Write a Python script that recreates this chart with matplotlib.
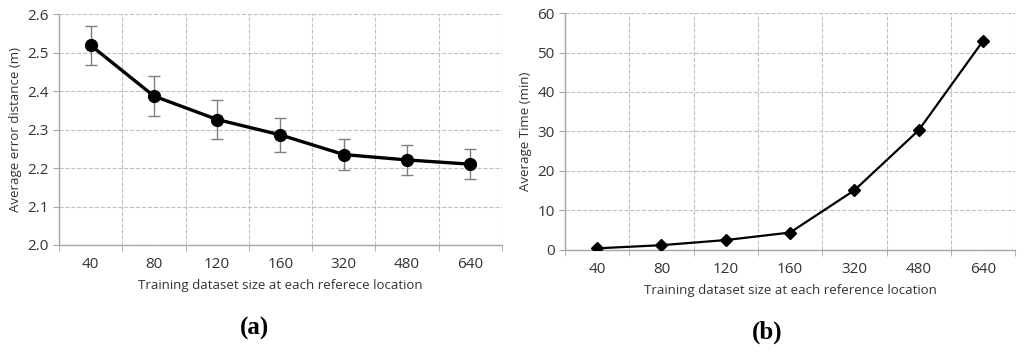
import matplotlib.pyplot as plt
import numpy as np

# x categories (training dataset size)
sizes = ['40', '80', '120', '160', '320', '480', '640']

# (a) average error distance (m) with error bars
err_dist = [2.519, 2.387, 2.326, 2.286, 2.235, 2.221, 2.210]
err_bar = [0.051, 0.052, 0.050, 0.044, 0.040, 0.040, 0.039]

# (b) average time (min)
avg_time = [0.4, 1.2, 2.5, 4.4, 15.1, 30.3, 52.9]

plt.rcParams['font.family'] = ['Open Sans', 'DejaVu Sans']

grid_c = '#c0c0c0'
spine_c = '#a6a6a6'


def style_axes(ax):
    x = np.arange(len(sizes))
    ax.set_xlim(-0.5, len(sizes) - 0.5)
    ax.set_xticks(x)
    ax.set_xticklabels(sizes)
    ax.set_xticks(np.arange(len(sizes) + 1) - 0.5, minor=True)
    ax.tick_params(axis='x', which='major', length=0, labelsize=11, pad=9, colors='#333333')
    ax.tick_params(axis='x', which='minor', length=4, color=spine_c)
    ax.tick_params(axis='y', which='major', length=4, color=spine_c, labelsize=11, colors='#333333')
    ax.grid(axis='x', which='minor', linestyle='--', color=grid_c, linewidth=0.8)
    ax.grid(axis='y', which='major', linestyle='--', color=grid_c, linewidth=0.8)
    for s in ['top', 'right']:
        ax.spines[s].set_visible(False)
    for s in ['left', 'bottom']:
        ax.spines[s].set_color(spine_c)
        ax.spines[s].set_linewidth(1.0)
    ax.set_axisbelow(True)


fig = plt.figure(figsize=(10.24, 3.52), dpi=100)
ax1 = fig.add_axes([0.0576, 0.304, 0.4326, 0.656])
ax2 = fig.add_axes([0.5518, 0.290, 0.4395, 0.673])

x = np.arange(len(sizes))

# (a)
style_axes(ax1)
ax1.errorbar(x, err_dist, yerr=err_bar, fmt='none', ecolor='#7f7f7f',
             elinewidth=1.0, capsize=4, capthick=1.0, zorder=2)
ax1.plot(x, err_dist, color='black', linewidth=2.4, marker='o',
         markersize=8.5, zorder=3)
ax1.set_ylim(2.0, 2.6)
ax1.set_yticks(np.arange(2.0, 2.61, 0.1))
ax1.set_yticklabels(['%.1f' % v for v in np.arange(2.0, 2.61, 0.1)])
ax1.set_ylabel('Average error distance (m)', fontsize=9.5, color='#333333', labelpad=4)
ax1.set_xlabel('Training dataset size at each referece location', fontsize=9.5,
               color='#333333', labelpad=5)

# (b)
style_axes(ax2)
ax2.plot(x, avg_time, color='black', linewidth=1.6, marker='D',
         markersize=6.5, zorder=3)
ax2.set_ylim(0, 60)
ax2.set_yticks(np.arange(0, 61, 10))
ax2.set_ylabel('Average Time (min)', fontsize=9.5, color='#333333', labelpad=4)
ax2.set_xlabel('Training dataset size at each reference location', fontsize=9.5,
               color='#333333', labelpad=5)

# panel captions
fig.text(0.249, 0.068, '(a)', ha='center', va='center', fontsize=18,
         fontweight='bold', family='Liberation Serif')
fig.text(0.749, 0.055, '(b)', ha='center', va='center', fontsize=18,
         fontweight='bold', family='Liberation Serif')

plt.savefig('out.png', dpi=100)
